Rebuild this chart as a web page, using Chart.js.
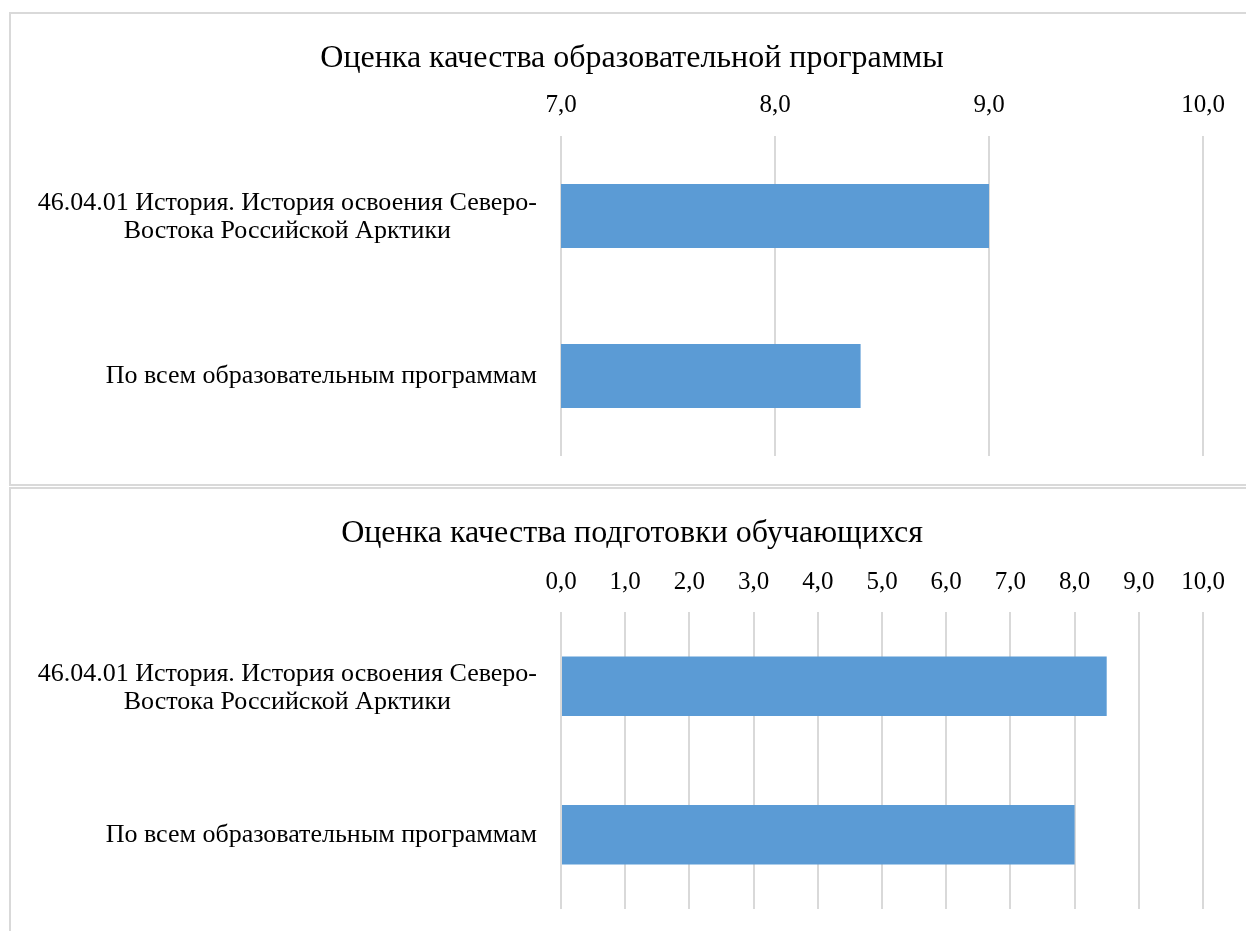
<!DOCTYPE html>
<html>
<head>
<meta charset="utf-8">
<script src="https://cdn.jsdelivr.net/npm/chart.js@4.4.1/dist/chart.umd.min.js"></script>
<style>
  body { margin: 0; background: #fff; overflow: hidden; width: 1246px; height: 931px; position: relative; }
  .panel { position: absolute; left: 9px; width: 1260px; border: 2px solid #d9d9d9; box-sizing: border-box; }
  #p1 { top: 12px; height: 474px; }
  #p2 { top: 487px; height: 470px; }
  .wrap { position: absolute; left: 0; width: 1264px; }
  #w1 { top: 0; height: 486px; }
  #w2 { top: 488px; height: 443px; }
</style>
</head>
<body>
<div class="panel" id="p1"></div>
<div class="panel" id="p2"></div>
<div class="wrap" id="w1"><canvas id="chartProgram"></canvas></div>
<div class="wrap" id="w2"><canvas id="chartTraining"></canvas></div>
<script>
const categories = [
  ['46.04.01 История. История освоения Северо-', 'Востока Российской Арктики'],
  'По всем образовательным программам'
];
const programScores = [9.0, 8.4];
const trainingScores = [8.5, 8.0];
const titleProgram = 'Оценка качества образовательной программы';
const titleTraining = 'Оценка качества подготовки обучающихся';

const serif = '"Liberation Serif", "Times New Roman", serif';

// category labels: block right-aligned at the plot, lines centred inside it
const catLabels = {
  id: 'catLabels',
  afterDraw(chart, args, opts) {
    const ctx = chart.ctx, ys = chart.scales.y;
    ctx.save();
    ctx.font = opts.size + 'px ' + serif;
    ctx.fillStyle = '#000';
    ctx.textAlign = 'center';
    ctx.textBaseline = 'middle';
    chart.data.labels.forEach((lab, i) => {
      const lines = [].concat(lab);
      const w = Math.max(...lines.map(l => ctx.measureText(l).width));
      const cx = chart.chartArea.left - opts.gap - w / 2;
      const cy = ys.getPixelForTick(i) + (lines.length > 1 ? 1.5 : 0);
      lines.forEach((l, k) => ctx.fillText(l, cx, cy + (k - (lines.length - 1) / 2) * opts.lineHeight));
    });
    ctx.restore();
  }
};

function makeChart(id, title, values, min, max, lay) {
  return new Chart(id, {
    type: 'bar',
    data: {
      labels: categories,
      datasets: [{ data: values, backgroundColor: '#5b9bd5', barPercentage: 0.4, categoryPercentage: 1 }]
    },
    options: {
      indexAxis: 'y',
      responsive: true,
      maintainAspectRatio: false,
      animation: false,
      layout: { padding: { left: 61, right: 61, top: 0, bottom: lay.bottom } },
      plugins: {
        legend: { display: false },
        tooltip: { enabled: false },
        title: {
          display: true, text: title, color: '#000',
          font: { family: serif, size: 32, weight: 'normal' },
          padding: { top: lay.titleTop, bottom: 10 }
        },
        catLabels: { size: 26, gap: 24, lineHeight: 28 }
      },
      scales: {
        x: {
          position: 'top', min: min, max: max,
          border: { display: false },
          grid: { color: '#d9d9d9', lineWidth: 2, drawTicks: false },
          ticks: {
            stepSize: 1, color: '#000', padding: lay.tickPad,
            font: { family: serif, size: 25 },
            callback: v => v.toFixed(1).replace('.', ',')
          },
          afterFit: s => { s.height = lay.axisH; }
        },
        y: {
          border: { display: false },
          grid: { display: false },
          ticks: { display: false },
          afterFit: s => { s.width = 500; }
        }
      }
    },
    plugins: [catLabels]
  });
}

makeChart('chartProgram', titleProgram, programScores, 7, 10,
  { bottom: 30, titleTop: 39, tickPad: 16, axisH: 48.6 });
makeChart('chartTraining', titleTraining, trainingScores, 0, 10,
  { bottom: 22, titleTop: 26, tickPad: 15, axisH: 49.6 });
</script>
</body>
</html>
